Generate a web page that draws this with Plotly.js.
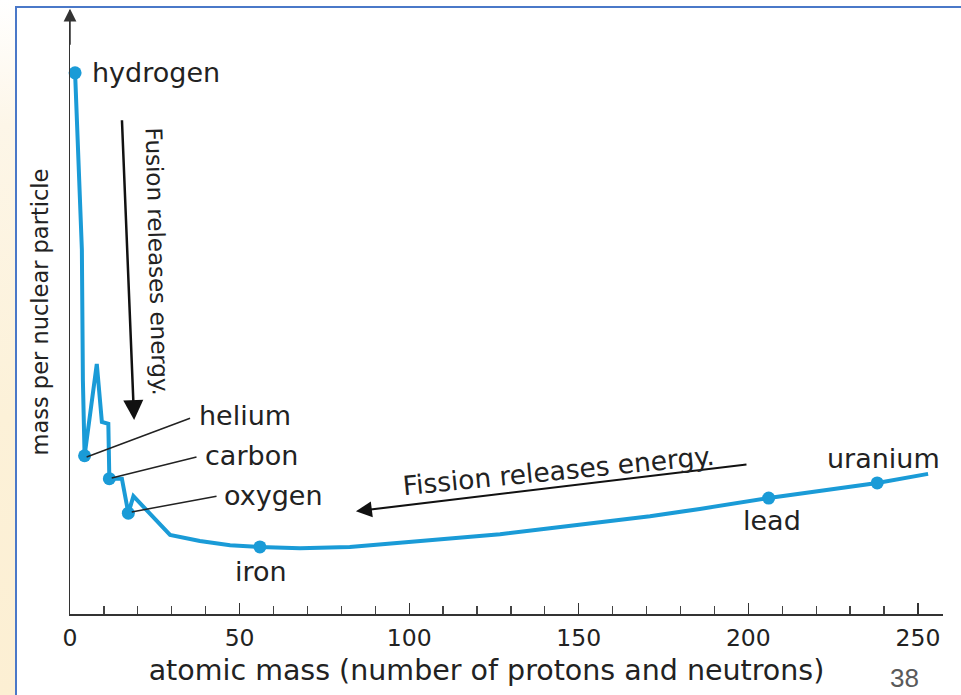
<!DOCTYPE html>
<html>
<head>
<meta charset="utf-8">
<script src="https://cdn.plot.ly/plotly-3.0.1.min.js"></script>
<style>
  html, body { margin: 0; padding: 0; background: #ffffff; }
  #page { position: relative; width: 961px; height: 695px; overflow: hidden; background: #ffffff; }
  #strip { position: absolute; left: 0; top: 0; width: 16px; height: 695px;
           background: linear-gradient(to bottom, #ffffff 0%, #fdf6e8 18%, #fcf1d8 60%, #fcefd3 100%); }
  #frame { position: absolute; left: 15px; top: 6px; width: 946px; height: 689px;
           border-left: 2px solid #4a78c8; border-top: 2px solid #4a78c8; box-sizing: border-box; }
  #chart { position: absolute; left: 0; top: 0; width: 961px; height: 695px; }
  #chart .g-xtitle { transform: translate(-20px, 0px); }
</style>
</head>
<body>
<div id="page">
  <div id="strip"></div>
  <div id="frame"></div>
  <div id="chart"></div>
</div>
<script>
// Curve: atomic mass vs. mass per nuclear particle (arbitrary units)
const atomicMass = [1.5, 3.5, 3.8, 4.3, 7.9, 9.4, 11.3, 11.6, 15.3, 17.2, 18.7, 29.5, 38.3, 47.2, 56, 67.8, 82.5, 97.3, 112.1, 126.8, 141.5, 156.3, 171, 185.7, 206, 238, 253];
const massPerParticle = [89.6, 60.3, 38.7, 26.2, 41.4, 31.8, 31.5, 22.4, 22.4, 16.7, 19.5, 13.1, 12.1, 11.4, 11.1, 10.9, 11.1, 11.8, 12.4, 13.2, 14.2, 15.2, 16.2, 17.4, 19.2, 21.7, 23.2];

// Labelled elements
const elementNames = ["hydrogen", "helium", "carbon", "oxygen", "iron", "lead", "uranium"];
const elementMass = [1.5, 4.3, 11.6, 17.2, 56, 206, 238];
const elementValue = [89.6, 26.2, 22.4, 16.7, 11.1, 19.2, 21.7];

// Axis ticks
const majorTicks = [0, 50, 100, 150, 200, 250];

const blue = '#1a9bd7';
const ink = '#222222';
const labelFont = { family: 'DejaVu Sans, Arial, sans-serif', size: 27, color: ink };

const traces = [
  {
    type: 'scatter', mode: 'lines',
    x: atomicMass, y: massPerParticle,
    line: { color: blue, width: 4, shape: 'linear' },
    hoverinfo: 'skip', showlegend: false, cliponaxis: false
  },
  {
    type: 'scatter', mode: 'markers',
    x: elementMass, y: elementValue, text: elementNames,
    marker: { color: blue, size: 13 },
    showlegend: false, cliponaxis: false
  }
];

// label placement (data coordinates) for each element name
const labelPos = {
  hydrogen: { x: 5.9,  y: 89.6, xanchor: 'left' },
  helium:   { x: 37.4, y: 32.9, xanchor: 'left' },
  carbon:   { x: 39.2, y: 26.2, xanchor: 'left' },
  oxygen:   { x: 44.8, y: 19.7, xanchor: 'left' },
  iron:     { x: 56.3, y: 7.1,  xanchor: 'center' },
  lead:     { x: 207,  y: 15.4, xanchor: 'center' },
  uranium:  { x: 240,  y: 25.7, xanchor: 'center' }
};

const annotations = elementNames.map(n => ({
  text: n, x: labelPos[n].x, y: labelPos[n].y, xref: 'x', yref: 'y',
  xanchor: labelPos[n].xanchor, yanchor: 'middle', showarrow: false, font: labelFont
}));

// Y-axis arrow head
annotations.push({
  x: 0, y: 100.2, ax: 0, ay: 94, xref: 'x', yref: 'y', axref: 'x', ayref: 'y',
  text: '', showarrow: true, arrowhead: 2, arrowsize: 1.7, arrowwidth: 1.5, arrowcolor: '#333'
});
// Fusion arrow
annotations.push({
  x: 18.9, y: 32.1, ax: 15.3, ay: 82.0, xref: 'x', yref: 'y', axref: 'x', ayref: 'y',
  text: '', showarrow: true, arrowhead: 2, arrowsize: 1.6, arrowwidth: 2.5, arrowcolor: '#111'
});
annotations.push({
  text: 'Fusion releases energy.', x: 25.6, y: 58.4, xref: 'x', yref: 'y',
  textangle: 88.5, showarrow: false,
  font: { family: 'DejaVu Sans, Arial, sans-serif', size: 23, color: ink }
});
// Fission arrow
annotations.push({
  x: 84.3, y: 17.0, ax: 199.9, ay: 24.8, xref: 'x', yref: 'y', axref: 'x', ayref: 'y',
  text: '', showarrow: true, arrowhead: 2, arrowsize: 1.6, arrowwidth: 2, arrowcolor: '#111'
});
annotations.push({
  text: 'Fission releases energy.', x: 143.9, y: 23.8, xref: 'x', yref: 'y',
  textangle: -5.6, showarrow: false,
  font: { family: 'DejaVu Sans, Arial, sans-serif', size: 26.5, color: ink }
});
// Slide number
annotations.push({
  text: '38', x: 0.975, y: -0.078, xref: 'paper', yref: 'paper', xanchor: 'right', yanchor: 'top',
  showarrow: false,
  font: { family: 'Liberation Sans Narrow, Liberation Sans, Arial, sans-serif', size: 26, color: '#5a5a5a' }
});

const leader = (x0, y0, x1, y1) => ({
  type: 'line', xref: 'x', yref: 'y', x0: x0, y0: y0, x1: x1, y1: y1,
  line: { color: ink, width: 1.5 }
});
const shapes = [
  leader(4.9, 26.0, 35.4, 32.4),
  leader(12.3, 22.5, 37.3, 26.0),
  leader(18.2, 16.9, 43.2, 19.5)
];

const layout = {
  width: 961, height: 695,
  margin: { l: 70, r: 18, t: 10, b: 81, pad: 0 },
  paper_bgcolor: 'rgba(0,0,0,0)', plot_bgcolor: 'rgba(0,0,0,0)',
  showlegend: false,
  xaxis: {
    range: [0, 257.4], fixedrange: true,
    showline: true, linecolor: '#333', linewidth: 1.5,
    showgrid: false, zeroline: false,
    tickmode: 'array', tickvals: majorTicks, ticktext: majorTicks.map(String),
    ticks: 'inside', ticklen: 11, tickwidth: 1.3, tickcolor: '#333',
    minor: { dtick: 10, tick0: 0, ticks: 'inside', ticklen: 8, tickwidth: 1.2, tickcolor: '#444', showgrid: false },
    tickfont: { family: 'DejaVu Sans, Arial, sans-serif', size: 23.5, color: ink },
    ticklabelstandoff: 2,
    automargin: false,
    title: {
      text: 'atomic mass (number of protons and neutrons)',
      font: { family: 'DejaVu Sans, Arial, sans-serif', size: 28.5, color: ink },
      standoff: 9
    }
  },
  yaxis: {
    range: [0, 100], fixedrange: true,
    showline: true, linecolor: '#333', linewidth: 1.5,
    showgrid: false, zeroline: false, ticks: '', showticklabels: false,
    automargin: false,
    title: {
      text: 'mass per nuclear particle',
      font: { family: 'DejaVu Sans, Arial, sans-serif', size: 22.5, color: ink },
      standoff: 13
    }
  },
  annotations: annotations,
  shapes: shapes
};

Plotly.newPlot('chart', traces, layout, { displayModeBar: false, staticPlot: true });
</script>
</body>
</html>
